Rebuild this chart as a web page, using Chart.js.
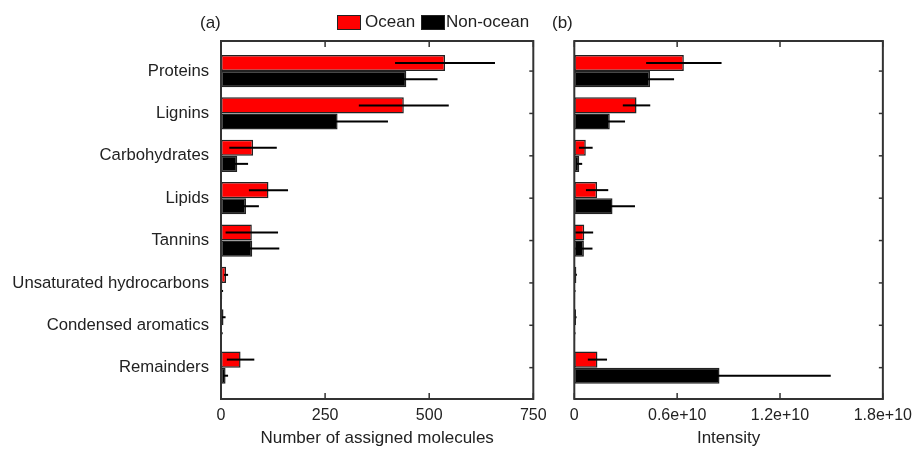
<!DOCTYPE html>
<html>
<head>
<meta charset="utf-8">
<script src="https://cdn.jsdelivr.net/npm/chart.js@4/dist/chart.umd.min.js"></script>
<style>
  body { margin: 0; background: #fff; font-family: "Liberation Sans", Arial, sans-serif; color: #222; }
  #wrap { position: relative; width: 919px; height: 449px; overflow: hidden; }
  canvas { position: absolute; top: 0; }
  #chartA { left: 0; }
  #chartB { left: 545px; }
  .lbl { position: absolute; font-size: 17px; line-height: 20px; white-space: nowrap; }
  .swatch { position: absolute; width: 22px; height: 13px; border: 1px solid #222; }
</style>
</head>
<body>
<div id="wrap">
  <canvas id="chartA" width="570" height="449"></canvas>
  <canvas id="chartB" width="374" height="449"></canvas>
  <div class="lbl" style="left:200px; top:13px;">(a)</div>
  <div class="lbl" style="left:552px; top:13px;">(b)</div>
  <div class="swatch" style="left:337px; top:15px; background:#ff0000;"></div>
  <div class="lbl" style="left:365px; top:12px;">Ocean</div>
  <div class="swatch" style="left:421px; top:15px; background:#000;"></div>
  <div class="lbl" style="left:446px; top:12px;">Non-ocean</div>
</div>
<script>
// categories (top to bottom)
const categories = ['Proteins', 'Lignins', 'Carbohydrates', 'Lipids', 'Tannins',
    'Unsaturated hydrocarbons', 'Condensed aromatics', 'Remainders'];

// (a) number of assigned molecules
const oceanCount = [538, 439, 77, 114, 74, 12, 6, 47];
const oceanCountErr = [120, 108, 57, 47, 63, 5, 5, 33];
const nonOceanCount = [445, 280, 39, 60, 75, 3, 2, 11];
const nonOceanCountErr = [75, 121, 26, 31, 65, 2, 2, 6];

// (b) intensity
const oceanIntensity = [6.39e9, 3.63e9, 0.67e9, 1.33e9, 0.58e9, 0.12e9, 0.1e9, 1.35e9];
const oceanIntensityErr = [2.2e9, 0.8e9, 0.4e9, 0.65e9, 0.52e9, 0.03e9, 0.03e9, 0.56e9];
const nonOceanIntensity = [4.42e9, 2.07e9, 0.29e9, 2.23e9, 0.56e9, 0.05e9, 0.05e9, 8.47e9];
const nonOceanIntensityErr = [1.4e9, 0.89e9, 0.17e9, 1.31e9, 0.5e9, 0.02e9, 0.02e9, 6.49e9];

// tick values / labels
const countTicks = [0, 250, 500, 750];
const countTickLabels = ['0', '250', '500', '750'];
const intensityTicks = [0, 0.6e10, 1.2e10, 1.8e10];
const intensityTickLabels = ['0', '0.6e+10', '1.2e+10', '1.8e+10'];

const FONT = '"Liberation Sans", Arial, sans-serif';
const TEXT = '#222';

// box around plot + inward ticks + error bars
const framePlugin = {
    id: 'frame',
    afterDatasetsDraw(chart) {
        const { ctx, chartArea: a, scales: { x, y } } = chart;
        ctx.save();

        // error bars
        ctx.strokeStyle = '#000';
        ctx.lineWidth = 2;
        chart.data.datasets.forEach((ds, di) => {
            const meta = chart.getDatasetMeta(di);
            meta.data.forEach((bar, i) => {
                const v = ds.data[i].x, e = ds.errors[i];
                const x1 = Math.max(x.getPixelForValue(v - e), a.left);
                const x2 = x.getPixelForValue(v + e);
                ctx.beginPath();
                ctx.moveTo(x1, bar.y);
                ctx.lineTo(x2, bar.y);
                ctx.stroke();
            });
        });

        // frame
        ctx.strokeStyle = '#333';
        ctx.lineWidth = 2;
        ctx.strokeRect(a.left, a.top, a.width, a.height);

        // x ticks, pointing in, top and bottom
        ctx.lineWidth = 1.5;
        x.ticks.forEach(t => {
            const px = x.getPixelForValue(t.value);
            ctx.beginPath();
            ctx.moveTo(px, a.top); ctx.lineTo(px, a.top + 6);
            ctx.moveTo(px, a.bottom); ctx.lineTo(px, a.bottom - 6);
            ctx.stroke();
        });
        // category ticks on the right border
        categories.forEach((c, i) => {
            const py = y.getPixelForValue(i);
            ctx.beginPath();
            ctx.moveTo(a.right, py); ctx.lineTo(a.right - 4, py);
            ctx.stroke();
        });
        ctx.restore();
    }
};

function makeDatasets(ocean, oceanErr, nonOcean, nonOceanErr) {
    return [
        {
            label: 'Ocean',
            data: ocean.map((v, i) => ({ x: v, y: i })),
            errors: oceanErr,
            backgroundColor: '#ff0000',
            borderColor: '#222',
            borderWidth: 1.5,
            borderSkipped: false
        },
        {
            label: 'Non-ocean',
            data: nonOcean.map((v, i) => ({ x: v, y: i })),
            errors: nonOceanErr,
            backgroundColor: '#000',
            borderColor: '#222',
            borderWidth: 1.5,
            borderSkipped: false
        }
    ];
}

function makeChart(canvasId, datasets, xMax, tickValues, tickLabels, xTitle, showCats, pad) {
    return new Chart(document.getElementById(canvasId), {
        type: 'bar',
        data: { datasets },
        plugins: [framePlugin],
        options: {
            indexAxis: 'y',
            responsive: false,
            animation: false,
            events: [],
            layout: { padding: pad },
            categoryPercentage: 0.76,
            barPercentage: 1,
            plugins: { legend: { display: false }, tooltip: { enabled: false } },
            scales: {
                x: {
                    type: 'linear',
                    min: 0,
                    max: xMax,
                    offset: false,
                    grid: { display: false, drawTicks: false },
                    border: { display: false },
                    afterBuildTicks: s => { s.ticks = tickValues.map(v => ({ value: v })); },
                    afterFit: s => { s.height = 50; },
                    ticks: {
                        padding: 7,
                        color: TEXT,
                        font: { family: FONT, size: 16 },
                        maxRotation: 0,
                        autoSkip: false,
                        callback: (v, i) => tickLabels[i]
                    },
                    title: {
                        display: true,
                        text: xTitle,
                        color: TEXT,
                        font: { family: FONT, size: 17 },
                        padding: { top: 0, bottom: 0 }
                    }
                },
                y: {
                    type: 'linear',
                    reverse: true,
                    offset: false,
                    min: -0.71,
                    max: 7.74,
                    display: showCats,
                    grid: { display: false, drawTicks: false, offset: false },
                    border: { display: false },
                    afterBuildTicks: s => { s.ticks = categories.map((c, i) => ({ value: i })); },
                    afterFit: s => { s.width = showCats ? 221 : 0; },
                    ticks: {
                        padding: 12,
                        color: TEXT,
                        autoSkip: false,
                        font: { family: FONT, size: 16.7 },
                        callback: v => categories[v]
                    }
                }
            }
        }
    });
}

makeChart('chartA', makeDatasets(oceanCount, oceanCountErr, nonOceanCount, nonOceanCountErr),
    750, countTicks, countTickLabels, 'Number of assigned molecules', true,
    { left: 0, right: 36.7, top: 41, bottom: 0 });

makeChart('chartB', makeDatasets(oceanIntensity, oceanIntensityErr, nonOceanIntensity, nonOceanIntensityErr),
    1.8e10, intensityTicks, intensityTickLabels, 'Intensity', false,
    { left: 29.3, right: 32.3, top: 41, bottom: 0 });
</script>
</body>
</html>
